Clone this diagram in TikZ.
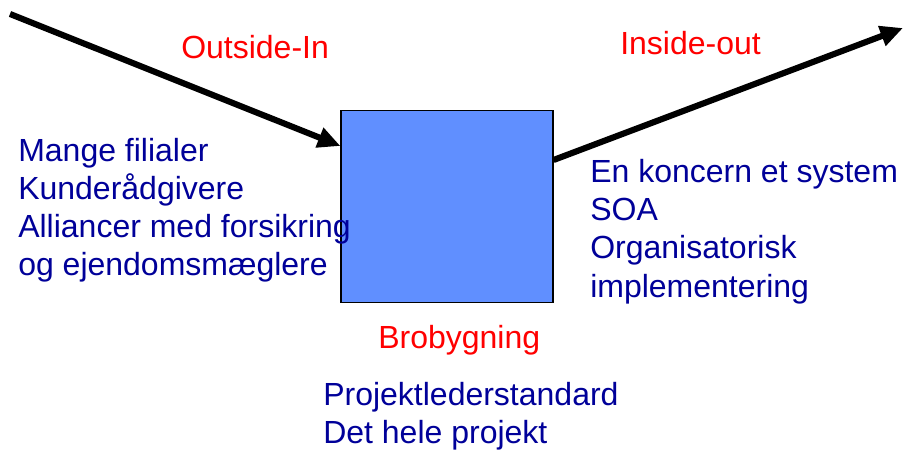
\documentclass[tikz,border=0pt]{standalone}
\usepackage{fontspec}
\setmainfont{Liberation Sans}
\usetikzlibrary{positioning,
        arrows.meta}
\definecolor{txtblue}{RGB}{0,0,153}
\definecolor{boxblue}{RGB}{96,143,255}

\begin{document}
\begin{tikzpicture}[x=0.75pt,y=-0.75pt,
        every node/.style={inner sep=0pt,anchor=base west,font=\fontsize{24}{28.8}\selectfont},
        head/.style={text=red},
        item/.style={text=txtblue,align=left},
        bigarrow/.style={line width=4.6pt,-{Triangle[length=17pt,width=15pt]}}]
        \useasboundingbox (0,0) rectangle (903,452);

        \node [draw=black,line width=0.8pt,fill=boxblue,anchor=center,minimum width=159pt,minimum height=143.5pt] (box) at (447,206.5) {};

        \coordinate (outer) at (10,14);
        \coordinate (intip) at (box.west |- 0,146);
        \coordinate (outstart) at (box.east |- 0,160);
        \coordinate (outtip) at (903,28);
        \draw [bigarrow] (outer) -- (intip);
        \draw [bigarrow] (outstart) -- (outtip);

        \node [head] (outsidein) at (181,59) {Outside-In};
        \node [head] (insideout) at (620,55) {Inside-out};
        \node [head] (bro) at (378,348) {Brobygning};

        \node [item] (left1) at (18,162) {Mange filialer};
        \node [item] (left2) at (18,200) {Kunderådgivere};
        \node [item] (left3) at (18,238) {Alliancer med forsikring};
        \node [item] (left4) at (18,276) {og ejendomsmæglere};

        \node [item] (right1) at (590,183) {En koncern et system};
        \node [item] (right2) at (590,221) {SOA};
        \node [item] (right3) at (590,259) {Organisatorisk};
        \node [item] (right4) at (590,297) {implementering};

        \node [item] (bot1) at (323,405) {Projektlederstandard};
        \node [item] (bot2) at (323,443) {Det hele projekt};
    \end{tikzpicture}
\end{document}
